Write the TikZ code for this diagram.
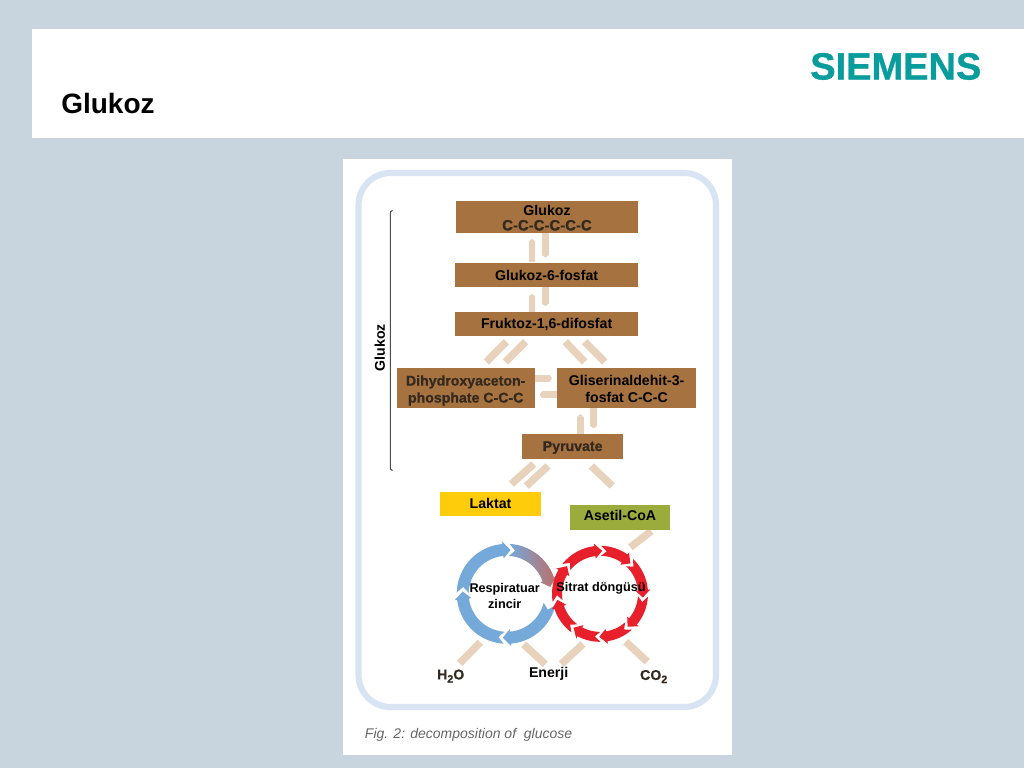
\documentclass[tikz,border=0pt]{standalone}
\usepackage{fontspec}
\setmainfont{Liberation Sans}
\newfontfamily\heavyf[BoldFeatures={FakeBold=0.8}]{Liberation Sans}
\usetikzlibrary{arrows.meta}
\definecolor{bgc}{HTML}{C9D5DE}
\definecolor{framec}{HTML}{D8E4F3}
\definecolor{brownc}{HTML}{A67240}
\definecolor{stubc}{HTML}{E8D2BC}
\definecolor{yellowc}{HTML}{FFCC0C}
\definecolor{olivec}{HTML}{9BAC3C}
\definecolor{bluec}{HTML}{74A9DA}
\definecolor{redc}{HTML}{E8202C}
\definecolor{mixc}{HTML}{BC6F68}
\definecolor{tealc}{HTML}{089C9C}
\definecolor{darkt}{HTML}{33291F}
\newcommand{\pxfont}[2]{\fontsize{#1}{#2}\selectfont\bfseries}
\newsavebox\nudgebox
\newcommand{\nudge}[2]{\sbox\nudgebox{#2}\raisebox{\dimexpr #1-(\ht\nudgebox-\dp\nudgebox)/2\relax}[0pt][0pt]{\usebox\nudgebox}}
\newcommand{\twoline}[2]{\begin{tabular}{@{}c@{}}#1\\#2\end{tabular}}
\tikzset{
  x=0.75pt,y=-0.75pt,
  stepbox/.style={draw=none,inner sep=0pt,align=center,font=\pxfont{10.6pt}{12.75pt},text=black},
  label/.style={inner sep=0pt,align=center,font=\pxfont{10.6pt}{12.75pt},text=black},
  stub/.style={color=stubc,line width=5pt,-{Triangle[length=1.8pt,width=5pt]}},
  stubdiag/.style={color=stubc,line width=5.6pt},
}
% box from corners
\newcommand{\bx}[7]{%
  \pgfmathsetmacro{\bw}{(#4-#2)*0.75}\pgfmathsetmacro{\bh}{(#5-#3)*0.75}%
  \pgfmathsetmacro{\bcx}{(#2+#4)/2}\pgfmathsetmacro{\bcy}{(#3+#5)/2}%
  \node[stepbox,fill=#6,minimum width=\bw pt,minimum height=\bh pt] (#1) at (\bcx,\bcy) {#7};}
% pale connectors
\newcommand{\stubline}[5]{%
  \coordinate (#1a) at (#2,#3); \coordinate (#1b) at (#4,#5);
  \draw[stub] (#1a) -- (#1b);}
\newcommand{\stubslant}[5]{%
  \coordinate (#1a) at (#2,#3); \coordinate (#1b) at (#4,#5);
  \draw[stubdiag] (#1a) -- (#1b);}
% clockwise ring arrow between two gap angles
\newcommand{\ringarrow}[7]{% cx cy g0 g1 ro ri style
  \pgfmathsetmacro{\angA}{#3-3.5}\pgfmathsetmacro{\angB}{#4+5}\pgfmathsetmacro{\angT}{#4-5}\pgfmathsetmacro{\angN}{#3-11}%
  \pgfmathsetmacro{\radM}{(#5+#6)/2}\pgfmathsetmacro{\radH}{#5+2.5}\pgfmathsetmacro{\radL}{#6-2.5}%
  \path[#7] plot[domain=\angA:\angB,samples=14,variable=\t] ({#1+#5*cos(\t)},{#2-#5*sin(\t)})
    -- ({#1+\radH*cos(\angB)},{#2-\radH*sin(\angB)})
    -- ({#1+\radM*cos(\angT)},{#2-\radM*sin(\angT)})
    -- ({#1+\radL*cos(\angB)},{#2-\radL*sin(\angB)})
    -- plot[domain=\angB:\angA,samples=14,variable=\t] ({#1+#6*cos(\t)},{#2-#6*sin(\t)})
    -- ({#1+\radM*cos(\angN)},{#2-\radM*sin(\angN)}) -- cycle;}
\newcommand{\subtwo}{\raisebox{-0.22em}{\fontsize{8pt}{8pt}\selectfont 2}}
\begin{document}
\begin{tikzpicture}
\useasboundingbox (0,0) rectangle (1024,768);
\fill[bgc] (0,0) rectangle (1024,768);
\fill[white] (32,29) rectangle (1024,138);
\node[anchor=base west,inner sep=0pt,font=\fontsize{21pt}{25pt}\selectfont\bfseries] (title) at (61,113) {Glukoz};
\node[anchor=base west,inner sep=0pt,text=tealc,font=\heavyf\fontsize{28.5pt}{32pt}\selectfont\bfseries] (logo) at (810,79.5) {SIEMENS};
\fill[white] (343,159) rectangle (732,755);
\draw[framec,line width=4.6pt,rounded corners=24pt] (358.5,173) rectangle (716,707);

% bracket
\draw[black!70,line width=0.8pt] (392.5,210.5) -- (390.3,212) -- (390.3,469) -- (392.5,470.5);
\node[label,rotate=90] (sidelabel) at (379.7,347.5) {Glukoz};

% connectors
\stubline{s1}{532}{262}{532}{239}
\stubline{s2}{545.3}{233}{545.3}{257.5}
\stubline{s3}{532}{312}{532}{294}
\stubline{s4}{545.3}{287}{545.3}{306}
\stubslant{s5}{486.3}{362}{506.3}{341.7}
\stubslant{s6}{505.3}{362}{525.7}{341.7}
\stubslant{s7}{565.3}{341.7}{584.7}{362}
\stubslant{s8}{584.7}{341.7}{604.7}{362}
\stubline{s9}{534.7}{378.3}{552}{378.3}
\stubline{s10}{557}{394.7}{539.7}{394.7}
\stubline{s11}{580.3}{434.3}{580.3}{414.3}
\stubline{s12}{593.7}{408.3}{593.7}{428.3}
\stubslant{s13}{533.7}{464}{511.3}{484}
\stubslant{s14}{548}{466}{526.3}{486}
\stubslant{s15}{591.3}{466}{612.3}{486}
\stubslant{s16}{651.3}{531}{630.3}{547.3}
\stubslant{s17}{480.3}{642.3}{459.7}{663.3}
\stubslant{s18}{523.7}{644.3}{545.3}{664.3}
\stubslant{s19}{583}{644}{561.3}{664}
\stubslant{s20}{625.7}{641.7}{647.3}{661.7}

% boxes
\bx{glu}{455.7}{201.3}{638.3}{233}{brownc}{\nudge{-2.2pt}{\fontsize{10.6pt}{10.3pt}\selectfont\twoline{Glukoz}{{\heavyf\bfseries\color{darkt}\fontsize{11.2pt}{10.3pt}\selectfont C-C-C-C-C-C}}}}
\bx{g6p}{455}{263}{638.3}{287.3}{brownc}{Glukoz-6-fosfat}
\bx{f16}{455}{311.7}{638.3}{336}{brownc}{\nudge{-0.6pt}{Fruktoz-1,6-difosfat}}
\bx{dhy}{396.7}{367.7}{534.7}{408.3}{brownc}{\nudge{-2pt}{\heavyf\bfseries\color{darkt}\twoline{Dihydroxyaceton-}{phosphate C-C-C}}}
\bx{gli}{557}{367.7}{696.3}{408.3}{brownc}{\nudge{-2.2pt}{\twoline{Gliserinaldehit-3-}{fosfat C-C-C}}}
\bx{pyr}{522.3}{434.3}{623}{458.7}{brownc}{\nudge{-0.8pt}{\heavyf\bfseries\color{darkt}Pyruvate}}
\bx{lak}{440}{491.7}{541}{516}{yellowc}{Laktat}
\bx{ase}{569.7}{504.7}{670.3}{530.3}{olivec}{\nudge{1.8pt}{Asetil-CoA}}

% rings
\ringarrow{506.7}{593.8}{182}{90}{50}{38}{fill=bluec}
\ringarrow{506.7}{593.8}{90}{14}{50}{38}{left color=bluec,right color=mixc}
\ringarrow{506.7}{593.8}{-10}{-90}{50}{38}{fill=bluec}
\ringarrow{506.7}{593.8}{-90}{-178}{50}{38}{fill=bluec}
\ringarrow{600}{593.8}{145}{92}{48}{38}{fill=redc}
\ringarrow{600}{593.8}{92}{50}{48}{38}{fill=redc}
\ringarrow{600}{593.8}{50}{0}{48}{38}{fill=redc}
\ringarrow{600}{593.8}{0}{-45}{48}{38}{fill=redc}
\ringarrow{600}{593.8}{-45}{-86}{48}{38}{fill=redc}
\ringarrow{600}{593.8}{-86}{-123}{48}{38}{fill=redc}
\ringarrow{600}{593.8}{-123}{-167}{48}{38}{fill=redc}
\ringarrow{600}{593.8}{193}{145}{48}{38}{fill=redc}

% texts
\node[label,font=\fontsize{9.5pt}{12pt}\selectfont\bfseries] (resp) at (504.7,596) {Respiratuar\\zincir};
\node[label,font=\fontsize{9.5pt}{12pt}\selectfont\bfseries] (sitr) at (601,588.5) {Sitrat döngüsü};
\node[label] (ener) at (548.7,674.3) {Enerji};
\node[label,text=darkt,font=\heavyf\fontsize{10.6pt}{12.75pt}\selectfont\bfseries] (hho) at (450.7,676) {H\subtwo O};
\node[label,text=darkt,font=\heavyf\fontsize{10.6pt}{12.75pt}\selectfont\bfseries] (coo) at (653.7,676.5) {CO\subtwo};
\node[anchor=base west,inner sep=0pt,text=black!60,font=\fontsize{10.5pt}{12pt}\selectfont\itshape] (cap) at (364.7,738.5) {Fig. 2: decomposition of\ \ glucose};
\end{tikzpicture}
\end{document}
